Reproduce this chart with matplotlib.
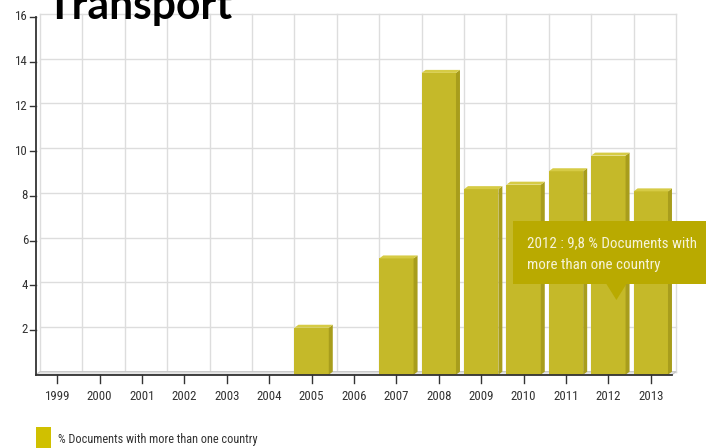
import matplotlib
matplotlib.use("Agg")
import matplotlib.pyplot as plt
from matplotlib.patches import Polygon, Rectangle
from matplotlib import font_manager

years = [1999, 2000, 2001, 2002, 2003, 2004, 2005, 2006, 2007, 2008, 2009, 2010, 2011, 2012, 2013]
share = [0, 0, 0, 0, 0, 0, 2.1, 0, 5.2, 13.5, 8.3, 8.5, 9.1, 9.8, 8.2]
y_ticks = [2, 4, 6, 8, 10, 12, 14, 16]
series_name = "% Documents with more than one country"
title = "Transport"
tip_year = 2012

W, H = 706, 448
DPI = 100

# prefer a narrow sans face when one is available
names = sorted({f.name for f in font_manager.fontManager.ttflist})
preferred = ["Liberation Sans Narrow", "Roboto Condensed", "Open Sans Condensed",
             "Noto Sans Condensed", "DejaVu Sans Condensed"]
narrow = next((n for n in preferred if n in names),
              next((n for n in names if "Narrow" in n or "Condensed" in n), "Liberation Sans"))

FRONT = "#c5b929"
SIDE = "#a89d1c"
TOP = "#d6cb45"
AXIS = "#333333"
GRID = "#dddddd"

fig = plt.figure(figsize=(W / DPI, H / DPI), dpi=DPI)
fig.patch.set_facecolor("white")
renderer = fig.canvas.get_renderer()


def fit_size(text, width_px, **kw):
    """Font size (pt) that makes `text` span `width_px` pixels."""
    t = fig.text(0, 0, text, fontsize=10, **kw)
    w = t.get_window_extent(renderer).width
    t.remove()
    return 10 * width_px / w


# plot area in pixels (left, top, right, bottom)
L, T, R, B = 36, 17, 672, 374.7
ax = fig.add_axes([L / W, 1 - B / H, (R - L) / W, (B - T) / H])
ax.set_xlim(-0.5, len(years) - 0.5)
ax.set_ylim(0, 16)
ax.set_facecolor("none")
for s in ax.spines.values():
    s.set_visible(False)
ax.set_xticks([])
ax.set_yticks([])

px_x = len(years) / (R - L)
px_y = 16 / (B - T)
# depth offset of the pseudo-3D back wall, in data units
dx = 4 * px_x
dy = 3 * px_y

x0, x1 = -0.5, len(years) - 0.5
# back wall grid
for v in [0] + y_ticks:
    ax.plot([x0 + dx, x1 + dx], [v + dy, v + dy], color=GRID, lw=1, zorder=0, clip_on=False)
for i in range(len(years) + 1):
    xv = i - 0.5 + dx
    ax.plot([xv, xv], [dy, 16 + dy], color=GRID, lw=1, zorder=0, clip_on=False)

# floor
floor = Polygon([(x0, 0), (x1, 0), (x1 + dx, dy), (x0 + dx, dy)], closed=True,
                facecolor="#e6e6e6", edgecolor="#c4c4c4", lw=0.8, zorder=1, clip_on=False)
ax.add_patch(floor)

# bars with side and top faces
bw = 0.81
for i, v in enumerate(share):
    if v <= 0:
        continue
    xl, xr = i - bw / 2, i + bw / 2
    ax.add_patch(Rectangle((xl, 0), bw, v, facecolor=FRONT, edgecolor="none", zorder=3))
    ax.add_patch(Polygon([(xr, 0), (xr, v), (xr + dx, v + dy), (xr + dx, dy)],
                         closed=True, facecolor=SIDE, edgecolor="none", zorder=3))
    ax.add_patch(Polygon([(xl, v), (xr, v), (xr + dx, v + dy), (xl + dx, v + dy)],
                         closed=True, facecolor=TOP, edgecolor="none", zorder=3))

# axis lines
ax.plot([x0, x0], [0, 16], color=AXIS, lw=1.3, zorder=5, clip_on=False)
ax.plot([x0, x1], [0, 0], color=AXIS, lw=1.3, zorder=5, clip_on=False)

tick_fs = fit_size("2000", 25, family=narrow)

# y ticks and labels
for v in y_ticks:
    ax.plot([x0 - 6 * px_x, x0], [v, v], color=AXIS, lw=1, zorder=5, clip_on=False)
    ax.text(x0 - 8 * px_x, v, str(v), ha="right", va="center", fontsize=tick_fs,
            family=narrow, color=AXIS)

# x ticks and labels
for i, yr in enumerate(years):
    ax.plot([i, i], [0, -8 * px_y], color=AXIS, lw=1, zorder=5, clip_on=False)
    ax.text(i, -22 * px_y, str(yr), ha="center", va="center", fontsize=tick_fs,
            family=narrow, color=AXIS)

# title, partly cut by the top edge
title_fs = fit_size(title, 187, fontweight="bold", family="Lato")
fig.text(46 / W, 1 - 19 / H, title, ha="left", va="baseline", fontsize=title_fs,
         fontweight="bold", family="Lato", color="black")

# legend
leg = fig.add_axes([0, 0, 1, 1], zorder=-1)
leg.set_xlim(0, W)
leg.set_ylim(H, 0)
leg.axis("off")
leg.add_patch(Rectangle((36, 427), 15, 22, facecolor="#d0c000", edgecolor="none"))
leg_fs = fit_size(series_name, 200, family=narrow)
leg.text(58, 439, series_name, ha="left", va="center", fontsize=leg_fs,
         family=narrow, color=AXIS)

# tooltip
ov = fig.add_axes([0, 0, 1, 1], zorder=10)
ov.set_xlim(0, W)
ov.set_ylim(H, 0)
ov.axis("off")
ti = years.index(tip_year)
tip_x = L + (ti + 0.5) / len(years) * (R - L) + 8
ov.add_patch(Rectangle((513, 221), 200, 63, facecolor="#b9aa00", edgecolor="none"))
ov.add_patch(Polygon([(tip_x - 10, 284), (tip_x + 10, 284), (tip_x, 300)], closed=True,
                     facecolor="#b9aa00", edgecolor="none"))
tip_val = f"{share[ti]:.1f}".replace(".", ",")
line1 = f"{tip_year} : {tip_val} % Documents with"
tip_fs = fit_size(line1, 168, family=narrow)
ov.text(527, 243, line1, ha="left", va="center", fontsize=tip_fs, family=narrow,
        color="#f6f3d8")
ov.text(527, 265, "more than one country", ha="left", va="center", fontsize=tip_fs,
        family=narrow, color="#f6f3d8")

fig.savefig("out.png", dpi=DPI)
